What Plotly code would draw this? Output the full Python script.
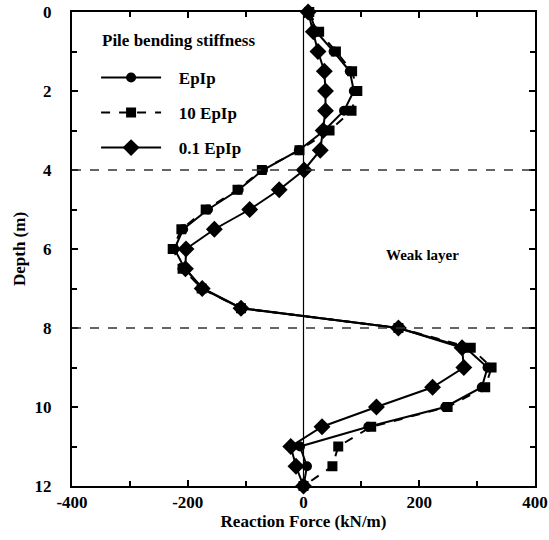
import plotly.graph_objects as go

depth = [0, 0.5, 1, 1.5, 2, 2.5, 3, 3.5, 4, 4.5, 5, 5.5, 6, 6.5, 7, 7.5,
         8, 8.5, 9, 9.5, 10, 10.5, 11, 11.5, 12]

force_epip = [10, 22, 52, 80, 87, 70, 36, -8, -70, -112, -165, -208, -223,
              -205, -174, -107, 164, 280, 318, 308, 245, 112, -6, 6, 0]
force_10epip = [10, 27, 56, 84, 93, 83, 45, -7, -72, -114, -169, -211, -226,
                -209, -176, -108, 164, 289, 325, 314, 249, 117, 60, 50, 0]
force_01epip = [8, 17, 25, 36, 38, 38, 34, 29, 1, -42, -93, -154, -203,
                -204, -175, -108, 164, 274, 277, 223, 126, 32, -22, -13, 0]

series_names = ["EpIp", "10 EpIp", "0.1 EpIp"]
layer_bounds = [4, 8]
x_tickvals = [-400, -200, 0, 200, 400]
x_ticktext = ["-400", "-200", "0", "200", "400"]
y_tickvals = [0, 2, 4, 6, 8, 10, 12]

FONT = "Liberation Serif"
NB = "\u00a0"

fig = go.Figure()
styles = [
    dict(symbol="circle", size=10, dash="solid"),
    dict(symbol="square", size=10, dash="dash"),
    dict(symbol="diamond", size=13, dash="solid"),
]
for name, vals, st, grp in zip(series_names,
                               [force_epip, force_10epip, force_01epip],
                               styles, ["a", "b", "c"]):
    fig.add_trace(go.Scatter(
        x=vals, y=depth, name=NB * 3 + name, mode="lines+markers",
        legendgroup=grp, cliponaxis=False,
        line=dict(color="black", width=2, dash=st["dash"]),
        marker=dict(symbol=st["symbol"], size=st["size"], color="black"),
    ))

for d in layer_bounds:
    fig.add_hline(y=d, line=dict(color="#333333", width=1.5, dash="dash"))
fig.add_vline(x=0, line=dict(color="black", width=1.2))

fig.add_annotation(x=205, y=6.15, text="Weak layer", showarrow=False,
                   font=dict(family=FONT, size=15, color="black", weight="bold"))
fig.add_annotation(x=0.061, y=0.94, xref="paper", yref="paper",
                   xanchor="left", yanchor="middle", showarrow=False,
                   text="Pile bending stiffness",
                   font=dict(family=FONT, size=17, color="black", weight="bold"))

axis_common = dict(
    showline=True, linecolor="black", linewidth=2, mirror="ticks",
    ticks="inside", ticklen=6, tickwidth=1.5, tickcolor="black",
    showgrid=False, zeroline=False, automargin=False,
    tickfont=dict(family=FONT, size=17, color="black", weight="bold"),
)
fig.update_xaxes(range=[-400, 400], tickvals=x_tickvals, ticktext=x_ticktext,
                 minor=dict(ticks="inside", ticklen=5, dtick=100,
                            tickcolor="black", tickwidth=1.5),
                 title=dict(text="Reaction Force (kN/m)", standoff=2,
                            font=dict(family=FONT, size=17, color="black",
                                      weight="bold")),
                 **axis_common)
fig.update_yaxes(range=[12, 0], tickvals=y_tickvals,
                 ticklabelstandoff=15,
                 minor=dict(ticks="inside", ticklen=5, dtick=1,
                            tickcolor="black", tickwidth=1.5),
                 title=dict(text="Depth (m)", standoff=5,
                            font=dict(family=FONT, size=17, color="black",
                                      weight="bold")),
                 **axis_common)

fig.update_layout(
    width=549, height=540,
    margin=dict(l=72, r=14, t=12, b=54),
    paper_bgcolor="white", plot_bgcolor="white",
    showlegend=True,
    legend=dict(
        x=0.052, y=0.899, xanchor="left", yanchor="top",
        bgcolor="rgba(0,0,0,0)",
        font=dict(family=FONT, size=17, color="black", weight="bold"),
        itemwidth=60, tracegroupgap=10,
    ),
)

fig.write_html(
    "out.html",
    config={"displayModeBar": False},
    post_script="document.body.style.margin='0';"
                "document.body.style.overflow='hidden';",
)
